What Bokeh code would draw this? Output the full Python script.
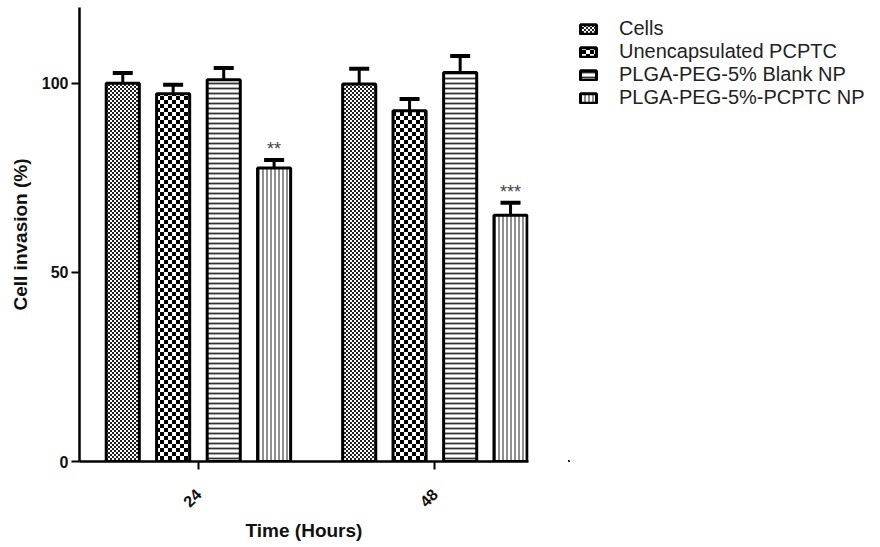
import numpy as np
from urllib.parse import quote
from bokeh.plotting import figure
from bokeh.layouts import row
from bokeh.models import (ColumnDataSource, Range1d, FixedTicker, Legend, LegendItem,
                          Whisker, TeeHead, ImageURLTexture)
from bokeh.transform import dodge
from bokeh.core.properties import value
from bokeh.embed import file_html
from bokeh.resources import INLINE

# ---------------- data ----------------
times = ["24", "48"]
series = ["Cells", "Unencapsulated PCPTC", "PLGA-PEG-5% Blank NP", "PLGA-PEG-5%-PCPTC NP"]
cells = [100.0, 99.8]
cells_err = [2.7, 4.0]
unenc = [97.2, 92.7]
unenc_err = [2.4, 3.1]
blank = [100.9, 102.8]
blank_err = [3.1, 4.4]
pcptc = [77.6, 65.1]
pcptc_err = [2.1, 3.3]
pcptc_sig = ["**", "***"]
y_ticks = [0, 50, 100]

FONT = "Liberation Sans"


def checker_url(n, color):
    h = n // 2
    svg = (f"<svg xmlns='http://www.w3.org/2000/svg' width='{n}' height='{n}' shape-rendering='crispEdges'>"
           f"<rect width='{n}' height='{n}' fill='white'/>"
           f"<rect width='{h}' height='{h}' fill='{color}'/>"
           f"<rect x='{h}' y='{h}' width='{h}' height='{h}' fill='{color}'/></svg>")
    return "data:image/svg+xml;charset=utf-8," + quote(svg)


fine_chk = ImageURLTexture(url=checker_url(4, "#222"), repetition="repeat")
big_chk = ImageURLTexture(url=checker_url(8, "#000"), repetition="repeat")

p = figure(width=530, height=547, output_backend="svg", toolbar_location=None,
           x_range=Range1d(-0.503, 1.396), y_range=Range1d(0, 120),
           min_border_left=79, min_border_right=2, min_border_top=7, min_border_bottom=86)
p.xgrid.visible = False
p.ygrid.visible = False
p.outline_line_color = None
p.background_fill_color = "white"

styles = [
    dict(hatch_pattern=value("fine_chk"), hatch_extra={"fine_chk": fine_chk}),
    dict(hatch_pattern=value("big_chk"), hatch_extra={"big_chk": big_chk}),
    dict(hatch_pattern=value("horizontal_line"), hatch_scale=5, hatch_weight=1.8, hatch_color="#333"),
    dict(hatch_pattern=value("vertical_line"), hatch_scale=4, hatch_weight=1.2, hatch_color="#444"),
]
offsets = [-0.320, -0.107, 0.107, 0.320]
vals = [cells, unenc, blank, pcptc]
errs = [cells_err, unenc_err, blank_err, pcptc_err]

# legend panel (separate figure to the right of the chart; its ranges keep its own bars out of view)
lg = figure(width=350, height=547, output_backend="svg", toolbar_location=None,
            x_axis_type=None, y_axis_type=None,
            x_range=Range1d(10, 11), y_range=Range1d(200, 300),
            min_border_left=38, min_border_top=7, min_border_right=0, min_border_bottom=86)
lg.grid.visible = False
lg.outline_line_color = None

items = []
for name, v, e, off, st in zip(series, vals, errs, offsets, styles):
    src = ColumnDataSource(dict(idx=list(range(len(times))), val=v,
                                top=[a + b for a, b in zip(v, e)]))
    p.vbar(x=dodge("idx", off, range=p.x_range), top="val", bottom=0, width=0.14,
           source=src, fill_color="white", line_color="black", line_width=3, **st)
    w = Whisker(base=dodge("idx", off, range=p.x_range), upper="top", lower="val", source=src,
                line_color="black", line_width=3,
                upper_head=TeeHead(size=20, line_width=4, line_color="black"), lower_head=None)
    p.add_layout(w)
    proxy = lg.vbar(x="idx", top="val", bottom="val", width=0.14, source=src, fill_color="white",
                    line_color="black", line_width=3, **st)
    items.append(LegendItem(label=name, renderers=[proxy]))
    if name == series[-1]:
        ssrc = ColumnDataSource(dict(idx=list(range(len(times))),
                                     top=[a + b for a, b in zip(v, e)], sig=pcptc_sig))
        p.text(x=dodge("idx", off, range=p.x_range), y="top", text="sig", source=ssrc,
               y_offset=-11, text_align="center", text_baseline="middle",
               text_font=value(FONT), text_font_size="18px", text_color="#444")

# axes
p.xaxis.ticker = FixedTicker(ticks=list(range(len(times))))
p.xaxis.major_label_overrides = {i: t for i, t in enumerate(times)}
p.xaxis.major_label_orientation = np.pi / 4
p.yaxis.ticker = FixedTicker(ticks=y_ticks)
for ax in (p.xaxis[0], p.yaxis[0]):
    ax.axis_line_width = 2.5
    ax.axis_line_color = "black"
    ax.major_tick_line_width = 2
    ax.major_tick_line_color = "black"
    ax.major_tick_in = 0
    ax.major_tick_out = 8
    ax.minor_tick_line_color = None
    ax.major_label_text_font = FONT
    ax.major_label_text_font_style = "bold"
    ax.major_label_text_font_size = "16px"
    ax.major_label_text_color = "#111"
    ax.axis_label_text_font = FONT
    ax.axis_label_text_font_style = "bold"
    ax.axis_label_text_font_size = "19px"
    ax.axis_label_text_color = "#111"
p.yaxis.major_label_standoff = 3
p.xaxis.major_label_standoff = 22
p.xaxis.axis_label = "Time (Hours)"
p.xaxis.axis_label_standoff = 4
p.yaxis.axis_label = "Cell invasion (%)"
p.yaxis.axis_label_standoff = 8

legend = Legend(items=items, location="top_left", glyph_width=20, glyph_height=12,
                label_standoff=21, label_text_font=FONT, label_text_font_size="20px",
                label_text_color="#222", label_height=20, spacing=0, padding=11, margin=10,
                border_line_color=None, background_fill_alpha=0)
lg.add_layout(legend)

layout = row(p, lg, spacing=0)
open("out.html", "w").write(file_html(layout, INLINE))
